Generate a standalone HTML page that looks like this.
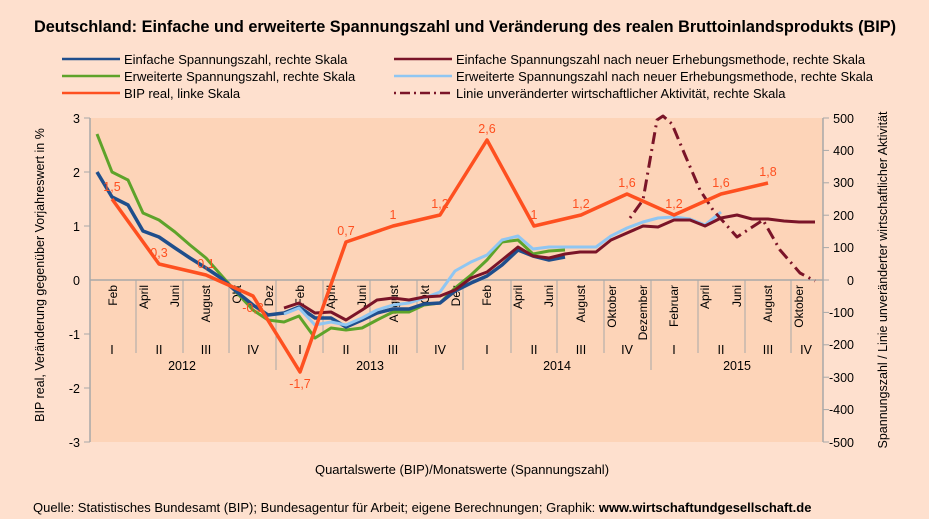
<!DOCTYPE html>
<html><head><meta charset="utf-8"><style>
body{margin:0;background:#fee0ce;}
svg{display:block;font-family:"Liberation Sans",Arial,sans-serif;}
</style></head><body>
<svg width="929" height="519" viewBox="0 0 929 519" xmlns="http://www.w3.org/2000/svg">
<rect width="929" height="519" fill="#fee0ce"/>
<text x="465" y="32" text-anchor="middle" font-size="16.3" font-weight="bold">Deutschland: Einfache und erweiterte Spannungszahl und Veränderung des realen Bruttoinlandsprodukts (BIP)</text>
<g font-size="13">
<line x1="62" y1="59" x2="120" y2="59" stroke="#1f4e8c" stroke-width="2.5"/><text x="124" y="64">Einfache Spannungszahl, rechte Skala</text>
<line x1="62" y1="76" x2="120" y2="76" stroke="#5ea32a" stroke-width="2.5"/><text x="124" y="81">Erweiterte Spannungszahl, rechte Skala</text>
<line x1="62" y1="93" x2="120" y2="93" stroke="#fe5020" stroke-width="2.5"/><text x="124" y="98">BIP real, linke Skala</text>
<line x1="394" y1="59" x2="452" y2="59" stroke="#7a1428" stroke-width="2.5"/><text x="456" y="64">Einfache Spannungszahl nach neuer Erhebungsmethode, rechte Skala</text>
<line x1="394" y1="76" x2="452" y2="76" stroke="#8fc6f2" stroke-width="2.5"/><text x="456" y="81">Erweiterte Spannungszahl nach neuer Erhebungsmethode, rechte Skala</text>
<line x1="394" y1="93" x2="452" y2="93" stroke="#7a1428" stroke-width="2.5" stroke-dasharray="2,4,10,4"/><text x="456" y="98">Linie unveränderter wirtschaftlicher Aktivität, rechte Skala</text>
</g>
<rect x="90" y="118" width="733" height="324" fill="#fdd4b8"/>
<g stroke="#a8a8a8" stroke-width="1.5">
<line x1="90" y1="118" x2="90" y2="442"/><line x1="823" y1="118" x2="823" y2="442"/>
<line x1="90" y1="280" x2="823" y2="280"/>
</g>
<g stroke="#a8a8a8" stroke-width="1">
<line x1="84" y1="118" x2="90" y2="118"/><line x1="84" y1="172" x2="90" y2="172"/><line x1="84" y1="226" x2="90" y2="226"/><line x1="84" y1="334" x2="90" y2="334"/><line x1="84" y1="388" x2="90" y2="388"/><line x1="84" y1="442" x2="90" y2="442"/>
<line x1="823" y1="118" x2="829" y2="118"/><line x1="823" y1="150.4" x2="829" y2="150.4"/><line x1="823" y1="182.8" x2="829" y2="182.8"/><line x1="823" y1="215.2" x2="829" y2="215.2"/><line x1="823" y1="247.6" x2="829" y2="247.6"/><line x1="823" y1="280" x2="829" y2="280"/><line x1="823" y1="312.4" x2="829" y2="312.4"/><line x1="823" y1="344.8" x2="829" y2="344.8"/><line x1="823" y1="377.2" x2="829" y2="377.2"/><line x1="823" y1="409.6" x2="829" y2="409.6"/><line x1="823" y1="442" x2="829" y2="442"/>
<line x1="136" y1="280" x2="136" y2="353"/><line x1="183" y1="280" x2="183" y2="353"/><line x1="229" y1="280" x2="229" y2="353"/><line x1="276" y1="280" x2="276" y2="370"/><line x1="323" y1="280" x2="323" y2="353"/><line x1="370" y1="280" x2="370" y2="353"/><line x1="417" y1="280" x2="417" y2="353"/><line x1="463" y1="280" x2="463" y2="370"/><line x1="511" y1="280" x2="511" y2="353"/><line x1="557" y1="280" x2="557" y2="353"/><line x1="604" y1="280" x2="604" y2="353"/><line x1="651" y1="280" x2="651" y2="370"/><line x1="698" y1="280" x2="698" y2="353"/><line x1="745" y1="280" x2="745" y2="353"/><line x1="791" y1="280" x2="791" y2="353"/>
</g>
<g font-size="12.5" text-anchor="end">
<text x="80" y="123">3</text><text x="80" y="177">2</text><text x="80" y="231">1</text><text x="80" y="285">0</text><text x="80" y="339">-1</text><text x="80" y="393">-2</text><text x="80" y="447">-3</text>
</g>
<g font-size="12.5" text-anchor="end">
<text x="854" y="123">500</text><text x="854" y="155">400</text><text x="854" y="187">300</text><text x="854" y="220">200</text><text x="854" y="252">100</text><text x="854" y="285">0</text><text x="854" y="317">-100</text><text x="854" y="349">-200</text><text x="854" y="382">-300</text><text x="854" y="414">-400</text><text x="854" y="447">-500</text>
</g>
<g font-size="12" text-anchor="end">
<text transform="translate(117,285) rotate(-90)">Feb</text>
<text transform="translate(148,285) rotate(-90)">April</text>
<text transform="translate(179,285) rotate(-90)">Juni</text>
<text transform="translate(210,285) rotate(-90)">August</text>
<text transform="translate(241,285) rotate(-90)">Okt</text>
<text transform="translate(273,285) rotate(-90)">Dez</text>
<text transform="translate(304,285) rotate(-90)">Feb</text>
<text transform="translate(335,285) rotate(-90)">April</text>
<text transform="translate(366,285) rotate(-90)">Juni</text>
<text transform="translate(398,285) rotate(-90)">August</text>
<text transform="translate(429,285) rotate(-90)">Okt</text>
<text transform="translate(460,285) rotate(-90)">Dez</text>
<text transform="translate(491,285) rotate(-90)">Feb</text>
<text transform="translate(522,285) rotate(-90)">April</text>
<text transform="translate(553,285) rotate(-90)">Juni</text>
<text transform="translate(585,285) rotate(-90)">August</text>
<text transform="translate(616,285) rotate(-90)">Oktober</text>
<text transform="translate(647,285) rotate(-90)">Dezember</text>
<text transform="translate(678,285) rotate(-90)">Februar</text>
<text transform="translate(709,285) rotate(-90)">April</text>
<text transform="translate(741,285) rotate(-90)">Juni</text>
<text transform="translate(772,285) rotate(-90)">August</text>
<text transform="translate(803,285) rotate(-90)">Oktober</text>
</g>
<g font-size="12.5" text-anchor="middle">
<text x="112" y="354">I</text><text x="159" y="354">II</text><text x="206" y="354">III</text><text x="253" y="354">IV</text>
<text x="300" y="354">I</text><text x="346" y="354">II</text><text x="393" y="354">III</text><text x="440" y="354">IV</text>
<text x="487" y="354">I</text><text x="534" y="354">II</text><text x="581" y="354">III</text><text x="627" y="354">IV</text>
<text x="674" y="354">I</text><text x="721" y="354">II</text><text x="768" y="354">III</text><text x="806" y="354">IV</text>
<text x="182" y="370">2012</text><text x="370" y="370">2013</text><text x="557" y="370">2014</text><text x="737" y="370">2015</text>
</g>
<g fill="none" stroke-linejoin="round" stroke-width="3">
<polyline stroke="#5ea32a" points="97,134 112,172 128,180 143,213 159,220 175,232 190,245 206,258 221,275 237,293 253,310 268,320 284,322 299,316 315,338 331,328 346,330 362,328 377,320 393,312 409,312 424,305 440,303 455,288 471,275 487,260 502,242 518,240 533,254 549,251 565,250"/>
<polyline stroke="#1f4e8c" stroke-width="3.5" points="97,172 112,197 128,205 143,231 159,237 175,248 190,258 206,268 221,278 237,292 253,305 268,315 284,313 299,307 315,318 331,318 346,327 362,320 377,313 393,309 409,309 424,304 440,303 455,291 471,283 487,276 502,265 518,250 533,256 549,260 565,257"/>
<polyline stroke="#8fc6f2" points="284,314 299,308 315,325 331,322 346,325 362,318 377,310 393,305 409,303 424,298 440,292 455,271 471,262 487,255 502,240 518,236 533,249 549,247 565,247 580,247 596,247 611,236 627,228 643,222 658,218 674,217 690,219 705,225 721,212"/>
<polyline stroke="#7a1428" points="284,308 299,303 315,313 331,312 346,320 362,310 377,300 393,298 409,300 424,297 440,296 455,290 471,278 487,272 502,260 518,247 533,256 549,258 565,254 580,252 596,252 611,240 627,233 643,226 658,227 674,220 690,220 705,226 721,218 737,215 752,219 768,219 784,221 799,222 815,222"/>
<polyline stroke="#7a1428" stroke-dasharray="2,5,12,5" points="630,218 643,200 650,160 657,120 663,116 672,124 685,155 700,190 713,210 737,237 763,220 780,250 800,273 815,281"/>
<polyline stroke="#fe5020" stroke-width="3.5" points="112,199 159,264 206,275 253,296 300,372 346,242 393,226 440,215 487,140 534,226 581,215 627,194 674,215 721,194 768,183"/>
</g>
<g font-size="12.5" fill="#fe5020" text-anchor="middle">
<text x="112" y="191">1,5</text><text x="159" y="257">0,3</text><text x="206" y="268">0,1</text><text x="253" y="312">-0,3</text><text x="300" y="388">-1,7</text><text x="346" y="235">0,7</text><text x="393" y="219">1</text><text x="440" y="208">1,2</text><text x="487" y="133">2,6</text><text x="534" y="219">1</text><text x="581" y="208">1,2</text><text x="627" y="187">1,6</text><text x="674" y="208">1,2</text><text x="721" y="187">1,6</text><text x="768" y="176">1,8</text>
</g>
<text transform="translate(44,275) rotate(-90)" font-size="12.5" text-anchor="middle">BIP real, Veränderung gegenüber Vorjahreswert in %</text>
<text transform="translate(887,280) rotate(-90)" font-size="12.5" text-anchor="middle">Spannungszahl / Linie unveränderter wirtschaftlicher Aktivität</text>
<text x="462" y="474" font-size="13" text-anchor="middle">Quartalswerte (BIP)/Monatswerte (Spannungszahl)</text>
<text x="33" y="512" font-size="13">Quelle: Statistisches Bundesamt (BIP); Bundesagentur für Arbeit; eigene Berechnungen; Graphik: <tspan font-weight="bold">www.wirtschaftundgesellschaft.de</tspan></text>
</svg>
</body></html>
